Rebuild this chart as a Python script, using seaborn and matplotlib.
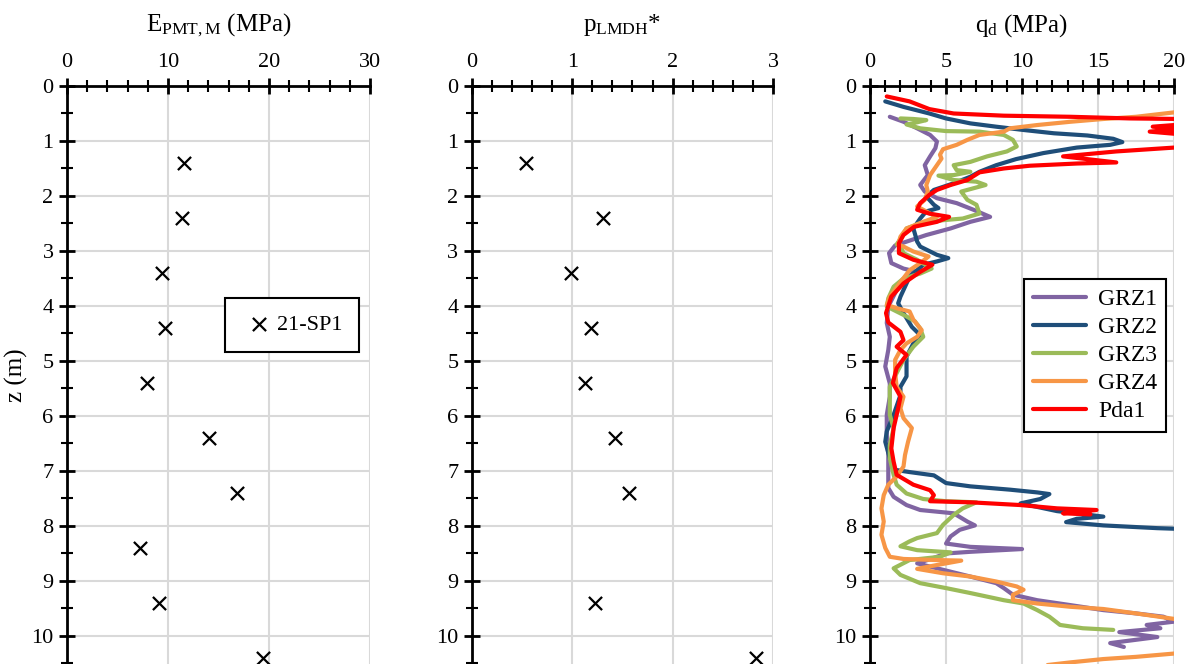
import numpy as np
import pandas as pd
import seaborn as sns
import matplotlib.pyplot as plt
from matplotlib.ticker import MultipleLocator

# pressuremeter modulus, borehole 21-SP1
z_pmt = [1.4, 2.4, 3.4, 4.4, 5.4, 6.4, 7.4, 8.4, 9.4, 10.4]
e_pmt = [11.6, 11.4, 9.4, 9.7, 7.9, 14.1, 16.8, 7.2, 9.1, 19.4]

# limit pressure p_LMDH*
z_pl = [1.4, 2.4, 3.4, 4.4, 5.4, 6.4, 7.4, 9.4, 10.4]
p_pl = [0.54, 1.31, 0.99, 1.19, 1.13, 1.43, 1.57, 1.23, 2.83]

# dynamic penetration resistance q_d
z_grz1 = [0.56, 0.65, 0.77, 0.89, 1.01, 1.13, 1.28, 1.44, 1.62, 1.80, 1.92, 2.04, 2.13, 2.25,
          2.38, 2.47, 2.59, 2.71, 2.83, 2.90, 3.04, 3.22, 3.32, 3.38, 3.47, 3.71, 4.01, 4.31,
          4.56, 4.80, 5.10, 5.41, 5.65, 5.98, 6.35, 6.71, 7.07, 7.31, 7.47, 7.62, 7.71, 7.77,
          7.92, 7.99, 8.07, 8.19, 8.32, 8.38, 8.42, 8.47, 8.50, 8.60, 8.68, 8.77, 8.92, 9.04,
          9.13, 9.25, 9.35, 9.44, 9.53, 9.59, 9.65, 9.74, 9.80, 9.86, 9.93, 10.02, 10.13, 10.20]
q_grz1 = [1.3, 2.2, 3.1, 3.95, 4.4, 4.3, 3.95, 3.6, 3.8, 3.3, 3.6, 4.4, 5.7, 6.8,
          7.9, 6.6, 5.3, 3.7, 2.4, 1.65, 1.25, 1.4, 2.2, 3.1, 2.4, 1.75, 1.2, 1.1,
          1.3, 1.2, 1.0, 1.3, 1.3, 1.1, 1.1, 1.2, 1.2, 1.2, 1.55, 2.4, 3.3, 5.5,
          6.4, 6.9, 5.9, 5.3, 5.0, 6.6, 10.0, 6.6, 5.0, 4.0, 3.1, 4.4, 6.6, 8.3,
          8.8, 9.4, 11.0, 13.2, 15.35, 17.5, 19.3, 20.0, 18.2, 19.1, 16.4, 18.9, 15.8, 16.7]

z_grz2 = [0.28, 0.38, 0.50, 0.59, 0.68, 0.74, 0.80, 0.86, 0.90, 0.96, 1.02, 1.07, 1.12, 1.22,
          1.33, 1.44, 1.56, 1.65, 1.77, 1.89, 2.01, 2.16, 2.22, 2.28, 2.41, 2.59, 2.83, 2.92,
          3.07, 3.13, 3.19, 3.25, 3.47, 3.83, 3.95, 4.13, 4.38, 4.53, 4.68, 4.92, 5.28, 5.47,
          5.62, 5.98, 6.28, 6.47, 6.77, 6.98, 7.02, 7.08, 7.22, 7.28, 7.34, 7.39, 7.42, 7.51,
          7.59, 7.73, 7.83, 7.87, 7.93, 7.99, 8.04, 8.05]
q_grz2 = [1.0, 2.2, 3.9, 5.0, 6.6, 8.3, 10.1, 12.1, 14.3, 16.0, 16.6, 15.8, 13.6, 11.4,
          9.6, 8.3, 7.2, 6.6, 5.5, 4.2, 3.7, 4.2, 4.5, 3.7, 3.3, 2.85, 3.1, 3.3,
          4.4, 5.15, 4.4, 3.5, 2.6, 2.0, 1.85, 2.2, 2.75, 3.3, 2.85, 2.4, 2.4, 2.0,
          2.0, 1.55, 1.1, 1.0, 1.3, 1.65, 2.6, 4.2, 5.0, 6.6, 9.2, 11.0, 11.8, 11.2,
          9.9, 12.3, 15.35, 13.6, 12.9, 15.35, 18.9, 20.0]

z_grz3 = [0.59, 0.60, 0.62, 0.66, 0.70, 0.77, 0.82, 0.83, 0.89, 0.98, 1.10, 1.19, 1.28, 1.38,
          1.44, 1.53, 1.56, 1.62, 1.63, 1.71, 1.74, 1.80, 1.86, 1.92, 2.07, 2.16, 2.32, 2.41,
          2.44, 2.50, 2.59, 2.74, 2.88, 2.92, 3.04, 3.16, 3.32, 3.41, 3.50, 3.65, 3.86, 4.01,
          4.10, 4.19, 4.28, 4.41, 4.56, 4.74, 4.98, 5.22, 5.47, 5.65, 5.98, 6.22, 6.53, 6.77,
          7.07, 7.25, 7.41, 7.51, 7.55, 7.57, 7.68, 7.80, 7.98, 8.13, 8.22, 8.28, 8.37, 8.44,
          8.48, 8.56, 8.62, 8.77, 8.89, 9.04, 9.13, 9.22, 9.35, 9.41, 9.53, 9.65, 9.80, 9.86, 9.89]
q_grz3 = [2.0, 2.85, 3.7, 3.1, 2.4, 3.3, 5.0, 7.2, 8.8, 9.4, 9.65, 9.0, 7.7, 6.6,
          5.5, 5.7, 6.6, 5.5, 4.5, 5.5, 7.0, 7.6, 6.8, 6.0, 6.4, 7.0, 7.2, 6.1,
          4.8, 3.3, 2.4, 2.1, 1.75, 2.0, 2.2, 3.1, 4.05, 3.3, 2.2, 1.55, 1.2, 1.1,
          1.75, 2.4, 2.95, 3.3, 3.5, 2.85, 2.2, 1.75, 1.3, 1.3, 1.3, 1.55, 1.3, 1.3,
          1.55, 1.75, 2.4, 3.5, 5.0, 7.0, 6.1, 5.5, 4.8, 4.4, 3.1, 2.6, 2.0, 3.1,
          5.3, 4.6, 2.6, 1.55, 2.0, 3.3, 5.0, 6.6, 8.8, 10.1, 11.0, 11.8, 12.5, 14.0, 16.0]

z_grz4 = [0.45, 0.48, 0.56, 0.60, 0.65, 0.71, 0.77, 0.83, 0.89, 0.98, 1.07, 1.15, 1.25, 1.32,
          1.44, 1.62, 1.80, 1.92, 2.07, 2.19, 2.32, 2.38, 2.47, 2.59, 2.74, 2.88, 2.92, 3.01,
          3.10, 3.22, 3.35, 3.53, 3.83, 3.98, 4.04, 4.10, 4.25, 4.44, 4.56, 4.68, 4.80, 4.98,
          5.22, 5.47, 5.65, 5.86, 6.04, 6.22, 6.47, 6.71, 6.92, 7.10, 7.25, 7.44, 7.68, 7.92,
          8.16, 8.40, 8.56, 8.60, 8.62, 8.63, 8.71, 8.78, 8.86, 8.92, 9.01, 9.10, 9.16, 9.25,
          9.35, 9.41, 9.47, 9.51, 9.59, 9.69, 9.80, 10.25, 10.32, 10.38, 10.42, 10.48, 10.55]
q_grz4 = [21.0, 20.0, 17.5, 15.35, 13.2, 11.0, 9.2, 8.8, 7.2, 6.4, 5.7, 4.8, 4.6, 4.7,
          4.4, 3.95, 3.7, 3.8, 3.6, 3.1, 3.95, 4.4, 3.5, 2.4, 2.0, 1.85, 2.2, 2.85,
          3.85, 3.3, 2.6, 2.1, 1.3, 1.1, 1.75, 2.6, 2.85, 3.4, 3.1, 2.4, 2.0, 1.65,
          1.65, 1.75, 2.2, 2.0, 2.2, 2.75, 2.5, 2.3, 2.2, 1.75, 1.2, 0.9, 0.75, 0.9,
          0.75, 1.0, 1.3, 2.2, 4.4, 6.0, 4.4, 3.1, 4.8, 6.6, 8.3, 9.65, 10.1, 9.4,
          9.4, 11.0, 13.2, 15.35, 17.5, 20.0, 21.5, 21.5, 20.0, 17.5, 15.35, 13.2, 11.0]

z_pda1 = [0.19, 0.28, 0.42, 0.50, 0.54, 0.56, 0.59, 0.60, 0.70, 0.74, 0.78, 0.83, 0.88, 1.10,
          1.12, 1.19, 1.28, 1.39, 1.41, 1.45, 1.50, 1.57, 1.71, 1.80, 1.89, 1.98, 2.13, 2.25,
          2.32, 2.38, 2.47, 2.56, 2.71, 2.86, 3.04, 3.16, 3.25, 3.38, 3.59, 3.83, 4.13, 4.30,
          4.47, 4.62, 4.74, 4.89, 5.13, 5.40, 5.65, 5.86, 6.22, 6.59, 6.83, 7.07, 7.25, 7.35,
          7.44, 7.55, 7.57, 7.62, 7.68, 7.71, 7.77, 7.79]
q_pda1 = [1.1, 2.6, 3.9, 5.5, 8.8, 13.2, 17.1, 20.5, 20.5, 18.6, 20.5, 18.4, 20.5, 20.5,
          20.0, 16.2, 12.7, 16.2, 13.6, 10.5, 8.8, 7.2, 6.4, 5.3, 4.4, 3.9, 3.3, 3.1,
          3.9, 5.2, 4.4, 2.9, 2.2, 1.9, 1.9, 2.85, 4.1, 3.3, 2.2, 1.4, 1.05, 1.2,
          2.0, 2.2, 1.75, 2.4, 1.75, 1.5, 2.0, 1.85, 1.55, 1.4, 1.55, 1.75, 2.85, 3.95,
          4.2, 3.95, 6.6, 9.9, 12.3, 14.9, 12.7, 14.5]

sondes = ['GRZ1', 'GRZ2', 'GRZ3', 'GRZ4', 'Pda1']
colors = ['#8064a2', '#1f4e79', '#9bbb59', '#f79646', '#ff0000']

qd = pd.concat([
    pd.DataFrame({'q': q_grz1, 'z': z_grz1, 'sonde': 'GRZ1'}),
    pd.DataFrame({'q': q_grz2, 'z': z_grz2, 'sonde': 'GRZ2'}),
    pd.DataFrame({'q': q_grz3, 'z': z_grz3, 'sonde': 'GRZ3'}),
    pd.DataFrame({'q': q_grz4, 'z': z_grz4, 'sonde': 'GRZ4'}),
    pd.DataFrame({'q': q_pda1, 'z': z_pda1, 'sonde': 'Pda1'}),
], ignore_index=True)

sns.set_style('white')
plt.rcParams['font.family'] = ['Liberation Serif', 'DejaVu Serif']
plt.rcParams['text.color'] = 'black'
plt.rcParams['mathtext.fontset'] = 'custom'
plt.rcParams['mathtext.rm'] = 'Liberation Serif'
plt.rcParams['mathtext.it'] = 'Liberation Serif:italic'

fig = plt.figure(figsize=(11.93, 6.64), dpi=100)
ax1 = fig.add_axes([0.0562, 0.0, 0.254, 0.8705])
ax2 = fig.add_axes([0.3956, 0.0, 0.2523, 0.8705])
ax3 = fig.add_axes([0.7293, 0.0, 0.2548, 0.8705])


def style(ax, xmax, major, minor, label):
    ax.set_xlim(0, xmax)
    ax.set_ylim(10.51, 0)
    ax.xaxis.set_major_locator(MultipleLocator(major))
    ax.xaxis.set_minor_locator(MultipleLocator(minor))
    ax.yaxis.set_major_locator(MultipleLocator(1))
    ax.yaxis.set_minor_locator(MultipleLocator(0.5))
    ax.xaxis.tick_top()
    ax.xaxis.set_label_position('top')
    ax.tick_params(which='major', direction='inout', length=11.5, width=2,
                   color='black', labelcolor='black', labelsize=16, pad=4)
    ax.tick_params(which='minor', direction='inout', length=8.5, width=1.5, color='black')
    ax.tick_params(axis='x', which='both', top=True, bottom=False, labeltop=True, labelbottom=False)
    ax.tick_params(axis='y', which='both', left=True, right=False)
    for s in ['right', 'bottom']:
        ax.spines[s].set_visible(False)
    for s in ['top', 'left']:
        ax.spines[s].set_color('black')
        ax.spines[s].set_linewidth(2)
    ax.grid(True, which='major', color='#d9d9d9', linewidth=1.5)
    ax.set_axisbelow(True)
    ax.set_xlabel(label, fontsize=18, labelpad=16, color='black')
    ax.set_ylabel('')


sns.scatterplot(x=e_pmt, y=z_pmt, marker='x', color='black', s=90, linewidth=1.6,
                label='21-SP1', ax=ax1)
sns.scatterplot(x=p_pl, y=z_pl, marker='x', color='black', s=90, linewidth=1.6,
                legend=False, ax=ax2)
sns.lineplot(data=qd, x='q', y='z', hue='sonde', hue_order=sondes,
             palette=dict(zip(sondes, colors)), sort=False, estimator=None,
             linewidth=3, ax=ax3)

style(ax1, 30, 10, 2, r'E$_{\mathrm{PMT,M}}$ (MPa)')
style(ax2, 3, 1, 0.2, r'p$_{\mathrm{LMDH}}$*')
style(ax3, 20, 5, 1, r'q$_{\mathrm{d}}$ (MPa)')
ax1.set_ylabel('z (m)', fontsize=18, labelpad=2, color='black')

leg1 = ax1.legend(loc='center', bbox_to_anchor=(0.742, 0.587), frameon=True, fancybox=False,
                  edgecolor='black', framealpha=1, fontsize=16, handletextpad=0.0,
                  borderpad=0.75, handlelength=1.6, borderaxespad=0)
leg1.get_frame().set_linewidth(1.5)

sns.move_legend(ax3, 'center', bbox_to_anchor=(0.74, 0.534), title=None, frameon=True,
                fancybox=False, edgecolor='black', framealpha=1, fontsize=17,
                handlelength=2.25, handletextpad=0.5, labelspacing=0.28, borderpad=0.4,
                borderaxespad=0)
ax3.get_legend().get_frame().set_linewidth(1.5)

fig.savefig('out.png', dpi=100)
